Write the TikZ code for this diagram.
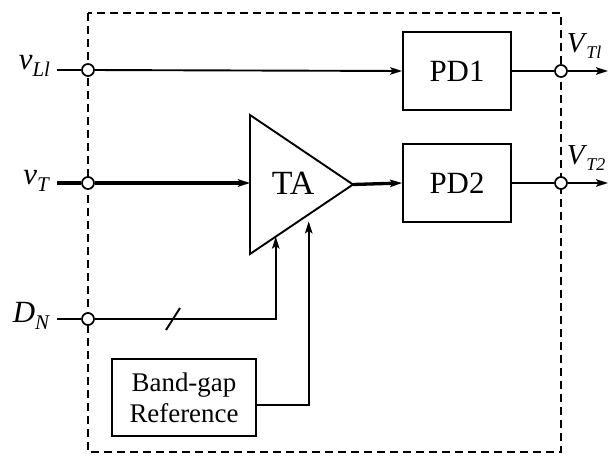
\documentclass[tikz,border=0pt]{standalone}
\usepackage{fontspec}
\setmainfont{Liberation Serif}
\usetikzlibrary{arrows.meta,calc}
\newcommand{\signame}[2]{\textit{#1}\raisebox{-0.22em}{\fontsize{21}{21}\selectfont\textit{#2}}}
\newcommand{\outname}[2]{\textit{#1}\kern-1bp\raisebox{-0.22em}{\fontsize{18}{18}\selectfont\textit{#2}}}
\begin{document}
\begin{tikzpicture}[x=1bp,y=-1bp,
  line width=1.9bp,
  tip/.style={-{Stealth[length=12bp,width=7.5bp,inset=2.5bp]}},
  heavy/.style={line width=3.3bp},
  blockbox/.style={draw,line width=1.9bp,minimum width=108bp,minimum height=78bp,inner sep=0pt,
    font=\fontsize{31}{33}\selectfont},
  port/.style={circle,draw,fill=white,line width=1.7bp,minimum size=12bp,inner sep=0pt},
  sig/.style={inner sep=0pt,font=\fontsize{31}{33}\selectfont},
  frame/.style={dashed,dash pattern=on 8bp off 5bp,line width=1.9bp}]
\useasboundingbox (0,0) rectangle (611,459);

% enclosing dashed boundary
\draw[frame] (88,13) rectangle (561,452);

% blocks
\node[blockbox] (pd1) at (457,71) {PD1};
\node[blockbox] (pd2) at (457,183) {PD2};
\node[draw,line width=1.9bp,minimum width=144bp,minimum height=77bp,inner sep=0pt,align=center,
  font=\fontsize{27}{31}\selectfont] (bg) at (184,397.5) {Band-gap\\Reference};

% transconductance amplifier
\coordinate (tatop) at (250,115);
\coordinate (tabot) at (250,254);
\coordinate (tatip) at (353,184.5);
\draw[line width=1.9bp,line join=miter] (tatop) -- (tatip) -- (tabot) -- cycle;
\node[inner sep=0pt,font=\fontsize{34}{36}\selectfont] (ta) at (293,183) {TA};
\coordinate (tain) at (250,183);
\coordinate (tadn) at ($(tabot)!0.25!(tatip)$);
\coordinate (taref) at ($(tabot)!0.57!(tatip)$);

% ports on the boundary
\node[port] (pl1) at (88,70) {};
\node[port] (pt) at (88,183) {};
\node[port] (pdn) at (88,319) {};
\node[port] (po1) at (561,71) {};
\node[port] (po2) at (561,183) {};

% free ends
\coordinate (el1) at (57,70);
\coordinate (et) at (57,183);
\coordinate (edn) at (57,319);
\coordinate (eo1) at (608,71);
\coordinate (eo2) at (608,183);

% signal labels
\node[sig,anchor=east] (lvl1) at (51,66) {\signame{v}{Ll}};
\node[sig,anchor=east] (lvt) at (51,181) {\signame{v}{T}};
\node[sig,anchor=east] (ldn) at (51,316) {\signame{D}{N}};
\node[sig,anchor=west,font=\fontsize{29}{31}\selectfont] (lvt1) at (566,46) {\outname{V}{Tl}};
\node[sig,anchor=west,font=\fontsize{29}{31}\selectfont] (lvt2) at (566,158) {\outname{V}{T2}};

% connections
\draw (el1) -- (pl1);
\draw[tip] (pl1) -- (pd1.west);
\draw[heavy] (et) -- (pt);
\draw[heavy,tip] (pt) -- (tain);
\draw[heavy,tip] (tatip) -- (pd2.west);
\draw (edn) -- (pdn);
\draw[tip] (pdn) -- (tadn |- pdn) -- (tadn);
\draw[tip,shorten >=7bp] ($(bg.east)+(0,7.5)$) -| (taref);
\draw (pd1.east) -- (po1);
\draw (pd2.east) -- (po2);
\draw[tip] (po1) -- (eo1);
\draw[tip] (po2) -- (eo2);

% bus slash on the digital control word
\coordinate (slash) at (173,319);
\draw ($(slash)+(-7,11)$) -- ($(slash)+(7,-11)$);
\end{tikzpicture}
\end{document}
